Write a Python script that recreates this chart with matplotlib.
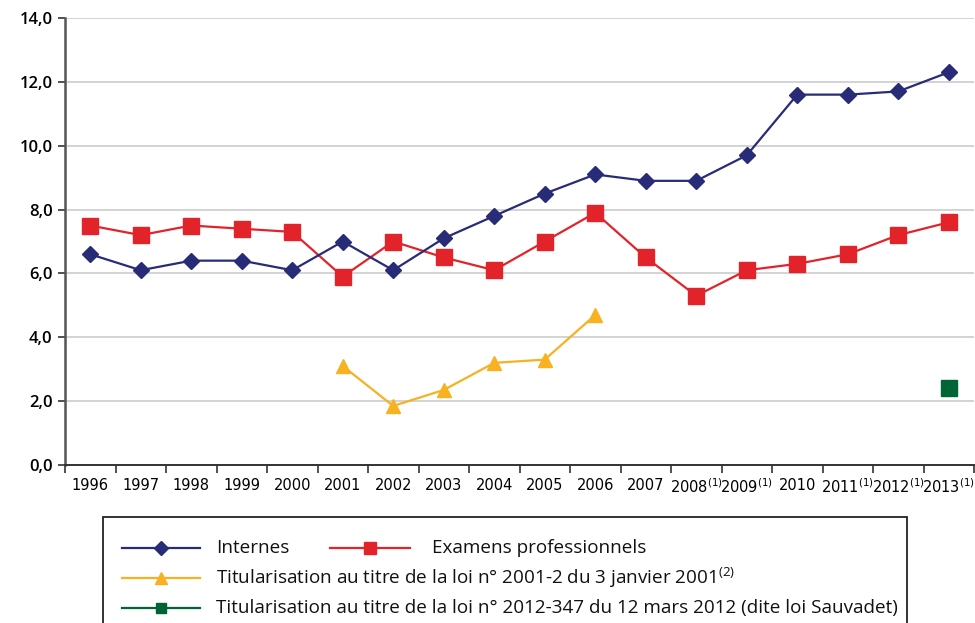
import numpy as np
import matplotlib.pyplot as plt
from matplotlib.lines import Line2D
from matplotlib.patches import Rectangle
from matplotlib.ticker import FixedLocator

plt.rcParams['font.family'] = ['Open Sans', 'DejaVu Sans']

years = ['1996', '1997', '1998', '1999', '2000', '2001', '2002', '2003', '2004',
         '2005', '2006', '2007', '2008', '2009', '2010', '2011', '2012', '2013']
note1 = ['2008', '2009', '2011', '2012', '2013']

internes = [6.6, 6.1, 6.4, 6.4, 6.1, 7.0, 6.1, 7.1, 7.8,
            8.5, 9.1, 8.9, 8.9, 9.7, 11.6, 11.6, 11.7, 12.3]
examens = [7.5, 7.2, 7.5, 7.4, 7.3, 5.9, 7.0, 6.5, 6.1,
           7.0, 7.9, 6.5, 5.3, 6.1, 6.3, 6.6, 7.2, 7.6]
titu_years = ['2001', '2002', '2003', '2004', '2005', '2006']
titu_2001 = [3.1, 1.85, 2.35, 3.2, 3.3, 4.7]
sauv_years = ['2013']
sauvadet = [2.4]

NAVY = '#282c78'
RED = '#e3232a'
YELLOW = '#f8b121'
GREEN = '#006434'

fig = plt.figure(figsize=(9.75, 6.23), dpi=100)
ax = fig.add_axes([65/975, 1-465/623, 909/975, 447/623])

x = np.arange(len(years))
tx = [years.index(y) for y in titu_years]
sx = [years.index(y) for y in sauv_years]

ax.plot(x, internes, color=NAVY, lw=1.6, marker='D', ms=8, zorder=4)
ax.plot(x, examens, color=RED, lw=1.6, marker='s', ms=11, zorder=3)
ax.plot(tx, titu_2001, color=YELLOW, lw=1.6, marker='^', ms=10.5, zorder=3)
ax.plot(sx, sauvadet, color=GREEN, lw=1.6, marker='s', ms=11, zorder=3)

ax.set_xlim(-0.5, len(years) - 0.5)
ax.set_ylim(0, 14)
ax.set_yticks(np.arange(0, 15, 2))
ax.set_yticklabels([f'{v:.1f}'.replace('.', ',') for v in np.arange(0, 15, 2)],
                   fontweight='semibold')
ax.yaxis.grid(True, color='#cccccc', lw=1.2)
ax.set_axisbelow(True)

labels = []
for y in years:
    if y in note1:
        labels.append(y + r'$^{\mathregular{(1)}}$')
    else:
        labels.append(y)
ax.set_xticks(x)
ax.set_xticklabels(labels, fontsize=10.5, family=['Liberation Sans Narrow', 'DejaVu Sans'])
ax.xaxis.set_minor_locator(FixedLocator(np.arange(-0.5, len(years), 1)))
ax.tick_params(axis='x', which='major', length=0, pad=9)
ax.tick_params(axis='x', which='minor', length=6, width=1.2, color='#333333')
ax.tick_params(axis='y', length=5, width=1.2, color='#333333', labelsize=12, pad=4)

for side in ['top', 'right']:
    ax.spines[side].set_visible(False)
ax.spines['left'].set_color('#555555')
ax.spines['left'].set_linewidth(1.8)
ax.spines['bottom'].set_color('#333333')
ax.spines['bottom'].set_linewidth(1.4)

# legend box, drawn by hand in figure pixels
def fx(px):
    return px / 975

def fy(py):
    return 1 - py / 623

fig.patches.append(Rectangle((fx(103), fy(640)), fx(907) - fx(103), fy(517) - fy(640),
                             transform=fig.transFigure, fill=False, ec='#222222', lw=1.3))

entries = [
    (122, 200, 548, NAVY, 'D', 7, 'Internes'),
    (330, 410, 548, RED, 's', 8, 'Examens professionnels'),
    (122, 200, 578, YELLOW, '^', 8.5, 'Titularisation au titre de la loi n° 2001-2 du 3 janvier 2001$^{\\mathregular{(2)}}$'),
    (122, 200, 608, GREEN, 's', 7, 'Titularisation au titre de la loi n° 2012-347 du 12 mars 2012 (dite loi Sauvadet)'),
]
for x0, x1, yy, col, mk, ms, txt in entries:
    fig.add_artist(Line2D([fx(x0), fx(x1)], [fy(yy), fy(yy)], transform=fig.transFigure,
                          color=col, lw=1.6))
    fig.add_artist(Line2D([fx((x0 + x1) / 2)], [fy(yy)], transform=fig.transFigure,
                          color=col, marker=mk, ms=ms, lw=0))
    tx0 = 216 if x0 < 200 else 432
    fig.text(fx(tx0), fy(yy), txt, fontsize=13.6, va='center', ha='left', color='#111111')

fig.savefig('out.png', dpi=100)
